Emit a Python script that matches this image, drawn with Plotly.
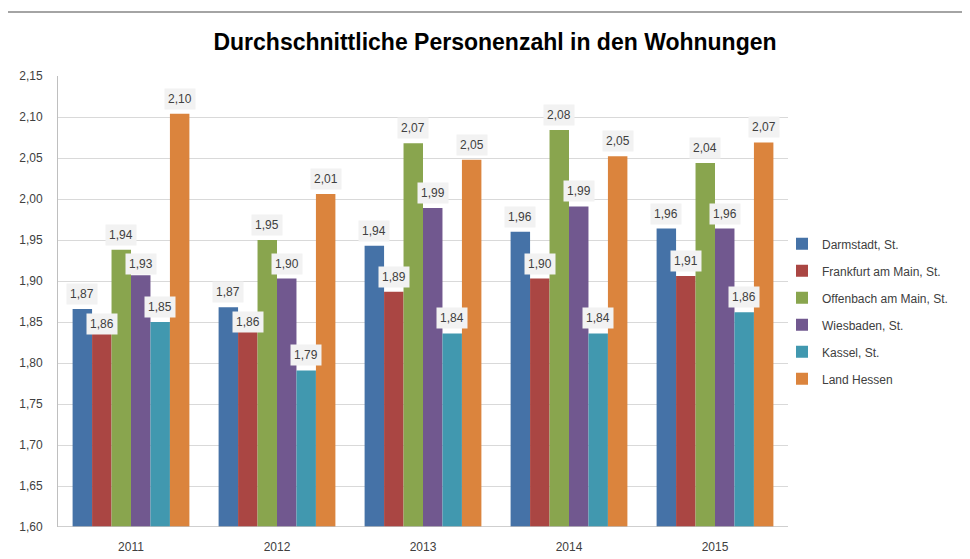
import plotly.graph_objects as go

years = ["2011", "2012", "2013", "2014", "2015"]

darmstadt = [1.866, 1.868, 1.943, 1.960, 1.964]
frankfurt = [1.858, 1.857, 1.887, 1.903, 1.906]
offenbach = [1.938, 1.950, 2.068, 2.084, 2.044]
wiesbaden = [1.907, 1.903, 1.989, 1.991, 1.964]
kassel = [1.850, 1.791, 1.836, 1.836, 1.862]
hessen = [2.104, 2.006, 2.048, 2.052, 2.069]

series_names = ["Darmstadt, St.", "Frankfurt am Main, St.", "Offenbach am Main, St.",
                "Wiesbaden, St.", "Kassel, St.", "Land Hessen"]
series_values = [darmstadt, frankfurt, offenbach, wiesbaden, kassel, hessen]
colors = ["#4572A7", "#AA4643", "#89A54E", "#71588F", "#4198AF", "#DB843D"]

# label texts as printed in the reference where they differ from rounding
label_text_overrides = {(3, 0): "1,93"}
# manually moved labels (pixel shift of label centre relative to bar top)
label_shift_overrides = {(1, 0): -9, (1, 1): -6, (3, 0): 11}

y_ticks = [1.60 + 0.05 * i for i in range(12)]
y_ticktext = [f"{v:.2f}".replace(".", ",") for v in y_ticks]

bargap = 0.2
n = len(series_names)

# page body has an 8px margin; compensate so the chart lands where the reference is
OFF = 8
L, T, PW, PH = 58 - OFF, 76 - OFF, 730, 451
W, H = 970, 559

fig = go.Figure()
xs = list(range(len(years)))
for k, (name, vals, col) in enumerate(zip(series_names, series_values, colors)):
    fig.add_trace(go.Bar(
        x=xs, y=[v - 1.6 for v in vals], base=1.6, name=name,
        marker=dict(color=col, line=dict(width=0)),
        legendgroup=name, hoverinfo="skip",
    ))

annotations = []
barw = (1 - bargap) / n
for k, vals in enumerate(series_values):
    for i, v in enumerate(vals):
        xpos = i - (1 - bargap) / 2 + (k + 0.5) * barw
        txt = label_text_overrides.get((k, i), f"{v:.2f}".replace(".", ","))
        shift = label_shift_overrides.get((k, i), 15)
        annotations.append(dict(
            x=xpos, y=v, xref="x", yref="y", text=txt, showarrow=False,
            yshift=shift, yanchor="middle", xanchor="center",
            bgcolor="#F2F2F2", borderpad=3,
            font=dict(family="Liberation Sans", size=12, color="#404040"),
        ))

def px_x(p):
    return (p - 58) / PW

def px_y(p):
    return (527 - p) / PH

fig.update_layout(
    width=W, height=H,
    margin=dict(l=L, r=W - L - PW, t=T, b=H - T - PH),
    paper_bgcolor="white", plot_bgcolor="white",
    barmode="group", bargap=bargap, bargroupgap=0,
    title=dict(text="<b>Durchschnittliche Personenzahl in den Wohnungen</b>",
               x=(495 - OFF) / W, xref="container", xanchor="center",
               y=1 - (42 - OFF) / H, yref="container", yanchor="middle",
               font=dict(family="Liberation Sans", size=23, color="black")),
    font=dict(family="Liberation Sans", size=12, color="#404040"),
    xaxis=dict(range=[-0.5, 4.5], tickvals=xs, ticktext=years, showgrid=False,
               showline=False, zeroline=False, ticks="", tickfont=dict(size=12),
               ticklabelstandoff=11, fixedrange=True),
    yaxis=dict(range=[1.6, 2.15], tickvals=y_ticks, ticktext=y_ticktext,
               showgrid=True, gridcolor="#D9D9D9", gridwidth=1,
               showline=True, linecolor="#BFBFBF", linewidth=1,
               zeroline=False, ticks="", tickfont=dict(size=12), ticklabelstandoff=12,
               fixedrange=True),
    legend=dict(x=px_x(782), xanchor="left", y=0.66, yanchor="top",
                font=dict(family="Liberation Sans", size=12, color="#404040"),
                itemwidth=30, tracegroupgap=8, bgcolor="rgba(0,0,0,0)"),
    annotations=annotations,
    showlegend=True,
)

# baseline (1.60) axis line
fig.add_shape(type="line", xref="paper", yref="y", x0=0, x1=1, y0=1.6, y1=1.6,
              line=dict(color="#BFBFBF", width=1.5), layer="above")
# chart border (top and left edges visible)
fig.add_shape(type="line", xref="paper", yref="paper",
              x0=px_x(4), x1=px_x(975), y0=px_y(12), y1=px_y(12),
              line=dict(color="#868686", width=1.5))
fig.add_shape(type="line", xref="paper", yref="paper",
              x0=px_x(4), x1=px_x(4), y0=px_y(12), y1=px_y(570),
              line=dict(color="#868686", width=1.5))

fig.write_html("out.html")
